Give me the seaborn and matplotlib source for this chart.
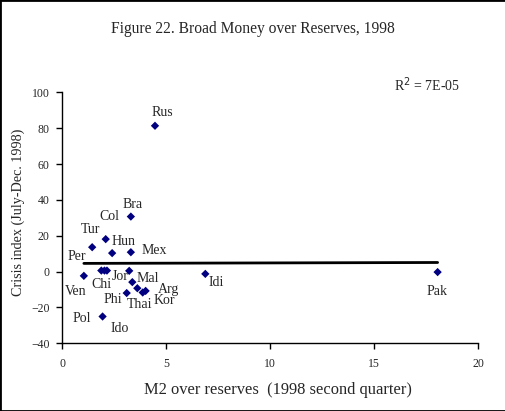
import numpy as np
import pandas as pd
import seaborn as sns
import matplotlib.pyplot as plt
from matplotlib.patches import Rectangle

# country codes, M2 over reserves, crisis index
names = ["Rus", "Bra", "Col", "Tur", "Hun", "Mex", "Per", "Chi", "Pol", "Ven",
         "Jor", "Mal", "Arg", "Thai", "Kor", "Phi", "Ido", "Idi", "Pak"]
m2 = [4.46, 3.30, 2.09, 1.44, 2.40, 3.30, 1.88, 2.03, 2.15, 1.04,
      3.22, 3.37, 3.61, 3.87, 4.01, 3.10, 1.94, 6.88, 18.05]
crisis = [81.4, 30.7, 18.1, 13.6, 10.3, 10.8, 0.55, 0.55, 0.55, -2.4,
          0.4, -5.9, -9.3, -11.7, -10.8, -12.0, -25.1, -1.3, -0.3]

# label offsets (pixels, y down)
label_off = {
    "Rus": (7, -13), "Bra": (2, -12), "Col": (4, -23), "Tur": (-2, -18),
    "Hun": (11, -12), "Mex": (23, -2), "Per": (-25, -14), "Chi": (-3, 14),
    "Pol": (-25, 48), "Ven": (-8, 16), "Jor": (-9, 6), "Mal": (15, -4),
    "Arg": (31, 1), "Thai": (-3, 12), "Kor": (19, 10), "Phi": (-14, 6),
    "Ido": (17, 12), "Idi": (11, 9), "Pak": (-1, 19),
}

df = pd.DataFrame({"name": names, "m2": m2, "crisis": crisis})

sns.set_style("ticks")
plt.rcParams["font.family"] = ["Liberation Serif", "DejaVu Serif"]

fig = plt.figure(figsize=(5.06, 4.11), dpi=100)
ax = fig.add_axes([0.123, 0.165, 0.822, 0.610])

sns.regplot(data=df, x="m2", y="crisis", ax=ax, scatter=False, ci=None,
            truncate=True, line_kws=dict(color="black", lw=2))
sns.scatterplot(data=df, x="m2", y="crisis", ax=ax, marker="D", s=18,
                color="#000080", edgecolor="none", zorder=3)

px = 72 / 100
for _, r in df.iterrows():
    dx, dy = label_off[r["name"]]
    ax.annotate(r["name"], (r["m2"], r["crisis"]), xytext=(dx * px, -dy * px),
                textcoords="offset points", ha="center", va="center", fontsize=10)

ax.set_xlim(0, 20)
ax.set_ylim(-40, 100)
ax.set_xticks([0, 5, 10, 15, 20])
ax.set_yticks(range(-40, 101, 20))
ax.tick_params(labelsize=8.5, length=4, width=1, color="black")
ax.tick_params(axis="x", pad=7)
ax.tick_params(axis="y", pad=5)
for s in ["left", "bottom"]:
    ax.spines[s].set_color("black")
    ax.spines[s].set_linewidth(1)
sns.despine(ax=ax)

ax.set_xlabel("M2 over reserves  (1998 second quarter)", fontsize=11.9, va="center")
ax.xaxis.set_label_coords(0.518, -0.186)
ax.set_ylabel("Crisis index (July-Dec. 1998)", fontsize=10.2, va="center")
ax.yaxis.set_label_coords(-0.105, 0.523)

fig.text(0.5, 0.93, "Figure 22. Broad Money over Reserves, 1998",
         ha="center", va="center", fontsize=11.2)
fig.text(0.844, 0.795, r"R$^2$ = 7E-05", ha="center", va="center", fontsize=10)

fig.patches.append(Rectangle((0, 0), 1, 1, transform=fig.transFigure,
                             fill=False, edgecolor="black", lw=2, clip_on=False))

fig.savefig("out.png", dpi=100)
